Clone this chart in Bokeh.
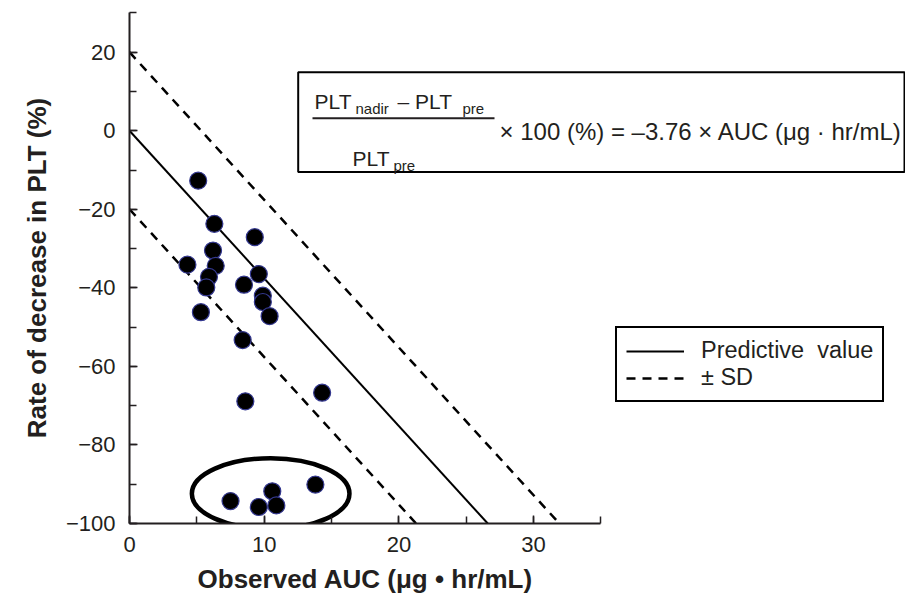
from bokeh.plotting import figure
from bokeh.models import (Range1d, Label, BoxAnnotation, Legend, LegendItem,
                          SingleIntervalTicker, Arrow, Title)
from bokeh.embed import file_html
from bokeh.resources import INLINE

# ---------------- data ----------------
auc = [5.1, 6.3, 9.3, 6.2, 4.3, 6.4, 5.9, 9.6, 8.5, 5.7, 9.9,
       9.9, 5.3, 10.4, 8.4, 8.6, 14.3, 7.5, 9.6, 10.6, 10.9, 13.8]
rate = [-12.7, -23.7, -27.1, -30.5, -34.1, -34.4, -37.2, -36.5, -39.2, -39.9, -42.0,
        -43.6, -46.2, -47.2, -53.3, -68.9, -66.7, -94.3, -95.8, -91.8, -95.4, -90.1]
slope = -3.76
sd = 20
y_floor = -100
x_ticks = [0, 10, 20, 30]
y_ticks = [20, 0, -20, -40, -60, -80, -100]
y_tick_labels = ["20", "0", "\u221220", "\u221240", "\u221260", "\u221280", "\u2212100"]
x_title = "Observed AUC (\u03bcg \u2022 hr/mL)"
y_title = "Rate of decrease in PLT (%)"

FONT = "Liberation Sans"
INK = "#231f20"

# ---------------- geometry (page px <-> data) ----------------
LEFT, TOP = 129, 12
SX = 13.47                  # px per AUC unit
SY = 3.9275                 # px per % unit
FRAME_W, FRAME_H = 776, 511
X_END = FRAME_W / SX
Y_END = -100 + FRAME_H / SY
PY0 = TOP + FRAME_H         # page y of rate = -100
HEIGHT = 606


def dx(px):
    return (px - LEFT) / SX


def dy(py):
    return -100 + (PY0 - py) / SY


p = figure(width=LEFT + FRAME_W, height=HEIGHT, frame_width=FRAME_W, frame_height=FRAME_H,
           min_border_left=LEFT, min_border_right=0, min_border_top=TOP,
           min_border_bottom=HEIGHT - TOP - FRAME_H,
           x_range=Range1d(0, X_END), y_range=Range1d(-100, Y_END),
           output_backend="svg", toolbar_location=None)
p.grid.visible = False
p.outline_line_color = None
p.background_fill_color = "white"

# axes
for ax, iv in ((p.xaxis[0], 10), (p.yaxis[0], 20)):
    ax.ticker = SingleIntervalTicker(interval=iv, num_minor_ticks=2)
    ax.axis_line_width = 2
    ax.axis_line_color = INK
    ax.major_tick_line_color = INK
    ax.minor_tick_line_color = INK
    ax.major_tick_line_width = 1.5
    ax.minor_tick_line_width = 1.5
    ax.major_tick_in = 8
    ax.major_tick_out = 0
    ax.minor_tick_in = 7
    ax.minor_tick_out = 0
    ax.major_label_text_font = FONT
    ax.major_label_text_font_size = "22px"
    ax.major_label_text_color = INK
    ax.axis_label_text_font = FONT
    ax.axis_label_text_font_size = "26px"
    ax.axis_label_text_font_style = "bold"
    ax.axis_label_text_color = INK

p.xaxis.bounds = (0, 35)
p.yaxis.bounds = (-100, 30)
p.xaxis.major_label_overrides = {t: str(t) for t in x_ticks}
p.yaxis.major_label_overrides = dict(zip(y_ticks, y_tick_labels))
p.xaxis.major_label_standoff = 13
p.yaxis.major_label_standoff = 14
p.yaxis.axis_label = y_title
p.yaxis.axis_label_standoff = 11

# x-axis title, centred under the drawn axis (0..35) rather than the whole frame
x_title_left = 35 / 2 * SX - 0.5 * 12.9 * 26      # approx. half text width at 26px bold
p.add_layout(Title(text=x_title, align="left", offset=x_title_left,
                   text_font=FONT, text_font_size="26px", text_font_style="bold",
                   text_color=INK, standoff=14), "below")

# regression line and +/- SD lines
x_pred = [0, y_floor / slope]
x_up = [0, (y_floor - sd) / slope]
x_lo = [0, (y_floor + sd) / slope]
r_pred = p.line(x_pred, [slope * v for v in x_pred], line_color="black", line_width=2)
r_up = p.line(x_up, [slope * v + sd for v in x_up], line_color="black", line_width=2.5,
              line_dash="9 7")
p.line(x_lo, [slope * v - sd for v in x_lo], line_color="black", line_width=2.5,
       line_dash="9 7")

# points
p.scatter(auc, rate, size=17, fill_color="black", line_color="#34388f", line_width=1.2)

# ellipse highlighting the cluster at the bottom
p.ellipse(x=[10.48], y=[-92.4], width=11.7, height=18.0, fill_color=None,
          line_color="black", line_width=4.5)

# legend
legend = Legend(items=[LegendItem(label="Predictive  value", renderers=[r_pred]),
                       LegendItem(label="\u00b1 SD", renderers=[r_up])],
                location=(486, 121), orientation="vertical",
                border_line_color="black", border_line_width=2, border_line_alpha=1,
                background_fill_color="white", background_fill_alpha=1,
                label_text_font=FONT, label_text_font_size="23.5px", label_text_color=INK,
                padding=9, spacing=0, margin=0, glyph_width=58, glyph_height=26,
                label_height=26, label_standoff=17)
p.add_layout(legend, "center")

# equation box
p.add_layout(BoxAnnotation(left=dx(297.7), right=dx(904), top=dy(71.7), bottom=dy(171.5),
                           fill_color="white", fill_alpha=1, line_color="black",
                           line_alpha=1, line_width=2, level="annotation"))


def lab(px, py, text, size):
    p.add_layout(Label(x=dx(px), y=dy(py), text=text, text_font=FONT,
                       text_font_size=size, text_color=INK, text_baseline="alphabetic",
                       text_align="left"))


lab(314.0, 100.5, "PLT", "21px")
lab(355.0, 108.0, "nadir", "15px")
lab(397.0, 100.5, "\u2013 PLT", "21px")
lab(462.0, 108.0, "pre", "15px")
lab(352.0, 157.5, "PLT", "21px")
lab(393.0, 164.5, "pre", "15px")
lab(499.0, 131.0, "\u00d7 100 (%) = \u20133.76 \u00d7 AUC (\u03bcg \u00b7 hr/mL)", "24px")
p.add_layout(Arrow(x_start=dx(312), y_start=dy(117.7), x_end=dx(494), y_end=dy(117.7),
                   end=None, line_width=2, line_color=INK))

open("out.html", "w").write(file_html(p, INLINE))
